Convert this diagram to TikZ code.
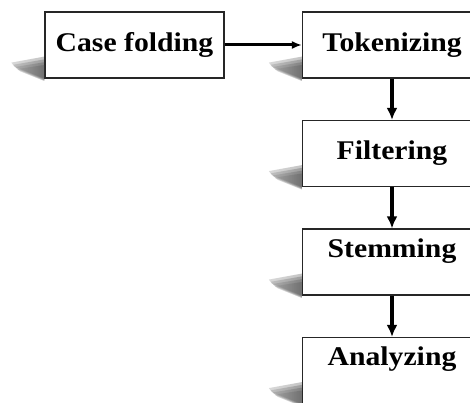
\documentclass[tikz,border=0pt]{standalone}
\usepackage{fontspec}
\usepackage{graphicx}
\usetikzlibrary{arrows.meta}
\setmainfont{Liberation Serif}
\newcommand{\wide}[1]{\scalebox{1.1}[1]{#1}}

\begin{document}
\begin{tikzpicture}[node distance=108.5pt]
        \tikzstyle{stage}=[rectangle, draw=black!85, line width=1.2pt, fill=white, minimum width=179pt, minimum height=66pt, inner sep=3pt, font=\fontsize{27}{31}\selectfont\bfseries]
        \tikzstyle{topstage}=[stage, text depth=28pt]
        \tikzstyle{flow}=[-{Latex[length=12pt,width=11pt]}, line width=3.2pt]
        \tikzstyle{drop}=[left color=white, right color=black!45, draw=none, fill opacity=0.18]
        \useasboundingbox (0,0) rectangle (470pt,402pt);
        \node[stage] (casefold) at (134.5pt,357pt) {\wide{Case folding}};
        \node[stage,right of=casefold,node distance=257.5pt] (tokenize) {\wide{Tokenizing}};
        \node[stage,below of=tokenize] (filter) {\wide{Filtering}};
        \node[topstage,below of=filter] (stem) {\wide{Stemming}};
        \node[topstage,below of=stem] (analyze) {\wide{Analyzing}};
        % soft shadows on the lower left corners
        \foreach \n in {casefold,tokenize,filter,stem,analyze}
            \foreach \k in {0,2,4,6}
                \fill[drop] ([yshift=-\k*0.4pt]\n.south west) -- ++(0,22pt-\k pt) -- ++(-33pt+\k pt,-6pt+0.3*\k pt) -- ++(3pt,-4pt+0.3*\k pt) -- cycle;
        \draw[-{Latex[length=10pt,width=8pt]},line width=3pt] (casefold) -- (tokenize);
        \draw[flow] (tokenize) -- (filter);
        \draw[flow] (filter) -- (stem);
        \draw[flow] (stem) -- (analyze);
    \end{tikzpicture}
\end{document}
